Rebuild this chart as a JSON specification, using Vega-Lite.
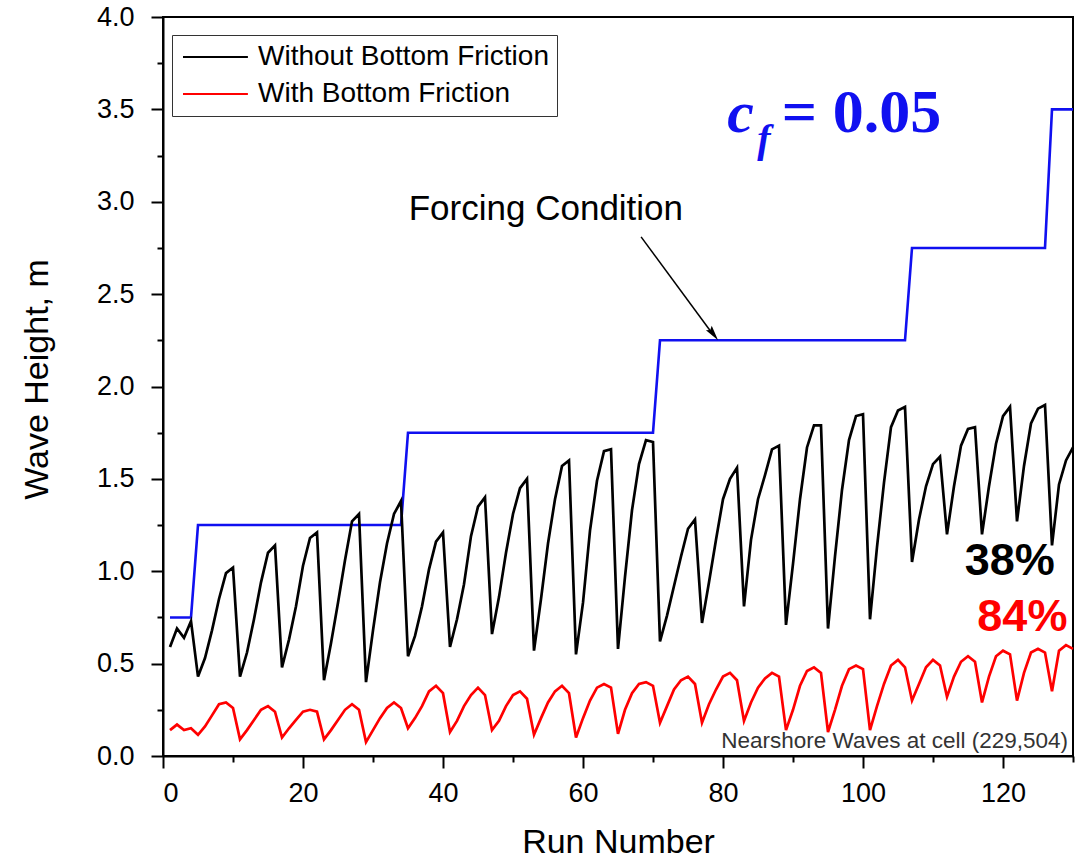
{
  "$schema": "https://vega.github.io/schema/vega-lite/v6.json",
  "width": 910,
  "height": 739,
  "autosize": {"type": "none"},
  "padding": {"left": 163, "top": 17, "right": 7, "bottom": 104},
  "background": "white",
  "config": {
    "font": "Liberation Sans",
    "view": {"stroke": "black", "strokeWidth": 2},
    "axis": {
      "grid": false,
      "domainColor": "black",
      "domainWidth": 2,
      "tickColor": "black",
      "tickWidth": 2,
      "labelColor": "black",
      "labelFont": "Liberation Sans",
      "labelFontSize": 27,
      "titleFont": "Liberation Sans",
      "titleFontSize": 34,
      "titleFontWeight": "normal",
      "titleColor": "black"
    }
  },
  "datasets": {
    "waves": [
      {"run":1,"series":"Without Bottom Friction","height":0.59},{"run":2,"series":"Without Bottom Friction","height":0.69},{"run":3,"series":"Without Bottom Friction","height":0.64},{"run":4,"series":"Without Bottom Friction","height":0.73},{"run":5,"series":"Without Bottom Friction","height":0.43},{"run":6,"series":"Without Bottom Friction","height":0.53},{"run":7,"series":"Without Bottom Friction","height":0.68},{"run":8,"series":"Without Bottom Friction","height":0.85},{"run":9,"series":"Without Bottom Friction","height":0.99},{"run":10,"series":"Without Bottom Friction","height":1.02},
      {"run":11,"series":"Without Bottom Friction","height":0.43},{"run":12,"series":"Without Bottom Friction","height":0.56},{"run":13,"series":"Without Bottom Friction","height":0.74},{"run":14,"series":"Without Bottom Friction","height":0.94},{"run":15,"series":"Without Bottom Friction","height":1.10},{"run":16,"series":"Without Bottom Friction","height":1.14},{"run":17,"series":"Without Bottom Friction","height":0.48},{"run":18,"series":"Without Bottom Friction","height":0.63},{"run":19,"series":"Without Bottom Friction","height":0.81},{"run":20,"series":"Without Bottom Friction","height":1.03},
      {"run":21,"series":"Without Bottom Friction","height":1.18},{"run":22,"series":"Without Bottom Friction","height":1.21},{"run":23,"series":"Without Bottom Friction","height":0.41},{"run":24,"series":"Without Bottom Friction","height":0.61},{"run":25,"series":"Without Bottom Friction","height":0.83},{"run":26,"series":"Without Bottom Friction","height":1.06},{"run":27,"series":"Without Bottom Friction","height":1.27},{"run":28,"series":"Without Bottom Friction","height":1.31},{"run":29,"series":"Without Bottom Friction","height":0.40},{"run":30,"series":"Without Bottom Friction","height":0.68},
      {"run":31,"series":"Without Bottom Friction","height":0.94},{"run":32,"series":"Without Bottom Friction","height":1.15},{"run":33,"series":"Without Bottom Friction","height":1.31},{"run":34,"series":"Without Bottom Friction","height":1.38},{"run":35,"series":"Without Bottom Friction","height":0.54},{"run":36,"series":"Without Bottom Friction","height":0.65},{"run":37,"series":"Without Bottom Friction","height":0.81},{"run":38,"series":"Without Bottom Friction","height":1.01},{"run":39,"series":"Without Bottom Friction","height":1.16},{"run":40,"series":"Without Bottom Friction","height":1.21},
      {"run":41,"series":"Without Bottom Friction","height":0.59},{"run":42,"series":"Without Bottom Friction","height":0.74},{"run":43,"series":"Without Bottom Friction","height":0.93},{"run":44,"series":"Without Bottom Friction","height":1.19},{"run":45,"series":"Without Bottom Friction","height":1.35},{"run":46,"series":"Without Bottom Friction","height":1.40},{"run":47,"series":"Without Bottom Friction","height":0.66},{"run":48,"series":"Without Bottom Friction","height":0.86},{"run":49,"series":"Without Bottom Friction","height":1.10},{"run":50,"series":"Without Bottom Friction","height":1.31},
      {"run":51,"series":"Without Bottom Friction","height":1.45},{"run":52,"series":"Without Bottom Friction","height":1.50},{"run":53,"series":"Without Bottom Friction","height":0.57},{"run":54,"series":"Without Bottom Friction","height":0.85},{"run":55,"series":"Without Bottom Friction","height":1.15},{"run":56,"series":"Without Bottom Friction","height":1.39},{"run":57,"series":"Without Bottom Friction","height":1.57},{"run":58,"series":"Without Bottom Friction","height":1.60},{"run":59,"series":"Without Bottom Friction","height":0.55},{"run":60,"series":"Without Bottom Friction","height":0.83},
      {"run":61,"series":"Without Bottom Friction","height":1.22},{"run":62,"series":"Without Bottom Friction","height":1.49},{"run":63,"series":"Without Bottom Friction","height":1.65},{"run":64,"series":"Without Bottom Friction","height":1.66},{"run":65,"series":"Without Bottom Friction","height":0.58},{"run":66,"series":"Without Bottom Friction","height":0.97},{"run":67,"series":"Without Bottom Friction","height":1.33},{"run":68,"series":"Without Bottom Friction","height":1.58},{"run":69,"series":"Without Bottom Friction","height":1.71},{"run":70,"series":"Without Bottom Friction","height":1.70},
      {"run":71,"series":"Without Bottom Friction","height":0.62},{"run":72,"series":"Without Bottom Friction","height":0.76},{"run":73,"series":"Without Bottom Friction","height":0.92},{"run":74,"series":"Without Bottom Friction","height":1.08},{"run":75,"series":"Without Bottom Friction","height":1.23},{"run":76,"series":"Without Bottom Friction","height":1.28},{"run":77,"series":"Without Bottom Friction","height":0.72},{"run":78,"series":"Without Bottom Friction","height":0.94},{"run":79,"series":"Without Bottom Friction","height":1.17},{"run":80,"series":"Without Bottom Friction","height":1.39},
      {"run":81,"series":"Without Bottom Friction","height":1.50},{"run":82,"series":"Without Bottom Friction","height":1.56},{"run":83,"series":"Without Bottom Friction","height":0.81},{"run":84,"series":"Without Bottom Friction","height":1.17},{"run":85,"series":"Without Bottom Friction","height":1.39},{"run":86,"series":"Without Bottom Friction","height":1.52},{"run":87,"series":"Without Bottom Friction","height":1.66},{"run":88,"series":"Without Bottom Friction","height":1.68},{"run":89,"series":"Without Bottom Friction","height":0.71},{"run":90,"series":"Without Bottom Friction","height":1.04},
      {"run":91,"series":"Without Bottom Friction","height":1.39},{"run":92,"series":"Without Bottom Friction","height":1.67},{"run":93,"series":"Without Bottom Friction","height":1.79},{"run":94,"series":"Without Bottom Friction","height":1.79},{"run":95,"series":"Without Bottom Friction","height":0.69},{"run":96,"series":"Without Bottom Friction","height":1.08},{"run":97,"series":"Without Bottom Friction","height":1.44},{"run":98,"series":"Without Bottom Friction","height":1.71},{"run":99,"series":"Without Bottom Friction","height":1.84},{"run":100,"series":"Without Bottom Friction","height":1.85},
      {"run":101,"series":"Without Bottom Friction","height":0.74},{"run":102,"series":"Without Bottom Friction","height":1.13},{"run":103,"series":"Without Bottom Friction","height":1.48},{"run":104,"series":"Without Bottom Friction","height":1.78},{"run":105,"series":"Without Bottom Friction","height":1.87},{"run":106,"series":"Without Bottom Friction","height":1.89},{"run":107,"series":"Without Bottom Friction","height":1.05},{"run":108,"series":"Without Bottom Friction","height":1.28},{"run":109,"series":"Without Bottom Friction","height":1.46},{"run":110,"series":"Without Bottom Friction","height":1.58},
      {"run":111,"series":"Without Bottom Friction","height":1.62},{"run":112,"series":"Without Bottom Friction","height":1.20},{"run":113,"series":"Without Bottom Friction","height":1.46},{"run":114,"series":"Without Bottom Friction","height":1.68},{"run":115,"series":"Without Bottom Friction","height":1.77},{"run":116,"series":"Without Bottom Friction","height":1.78},{"run":117,"series":"Without Bottom Friction","height":1.20},{"run":118,"series":"Without Bottom Friction","height":1.46},{"run":119,"series":"Without Bottom Friction","height":1.69},{"run":120,"series":"Without Bottom Friction","height":1.84},
      {"run":121,"series":"Without Bottom Friction","height":1.89},{"run":122,"series":"Without Bottom Friction","height":1.27},{"run":123,"series":"Without Bottom Friction","height":1.57},{"run":124,"series":"Without Bottom Friction","height":1.80},{"run":125,"series":"Without Bottom Friction","height":1.88},{"run":126,"series":"Without Bottom Friction","height":1.90},{"run":127,"series":"Without Bottom Friction","height":1.14},{"run":128,"series":"Without Bottom Friction","height":1.47},{"run":129,"series":"Without Bottom Friction","height":1.60},{"run":130,"series":"Without Bottom Friction","height":1.67},
      {"run":1,"series":"With Bottom Friction","height":0.14},{"run":2,"series":"With Bottom Friction","height":0.17},{"run":3,"series":"With Bottom Friction","height":0.14},{"run":4,"series":"With Bottom Friction","height":0.15},{"run":5,"series":"With Bottom Friction","height":0.115},{"run":6,"series":"With Bottom Friction","height":0.16},{"run":7,"series":"With Bottom Friction","height":0.22},{"run":8,"series":"With Bottom Friction","height":0.28},{"run":9,"series":"With Bottom Friction","height":0.29},{"run":10,"series":"With Bottom Friction","height":0.26},
      {"run":11,"series":"With Bottom Friction","height":0.09},{"run":12,"series":"With Bottom Friction","height":0.14},{"run":13,"series":"With Bottom Friction","height":0.195},{"run":14,"series":"With Bottom Friction","height":0.25},{"run":15,"series":"With Bottom Friction","height":0.27},{"run":16,"series":"With Bottom Friction","height":0.24},{"run":17,"series":"With Bottom Friction","height":0.10},{"run":18,"series":"With Bottom Friction","height":0.15},{"run":19,"series":"With Bottom Friction","height":0.195},{"run":20,"series":"With Bottom Friction","height":0.24},
      {"run":21,"series":"With Bottom Friction","height":0.25},{"run":22,"series":"With Bottom Friction","height":0.24},{"run":23,"series":"With Bottom Friction","height":0.09},{"run":24,"series":"With Bottom Friction","height":0.14},{"run":25,"series":"With Bottom Friction","height":0.195},{"run":26,"series":"With Bottom Friction","height":0.25},{"run":27,"series":"With Bottom Friction","height":0.28},{"run":28,"series":"With Bottom Friction","height":0.25},{"run":29,"series":"With Bottom Friction","height":0.075},{"run":30,"series":"With Bottom Friction","height":0.14},
      {"run":31,"series":"With Bottom Friction","height":0.205},{"run":32,"series":"With Bottom Friction","height":0.26},{"run":33,"series":"With Bottom Friction","height":0.29},{"run":34,"series":"With Bottom Friction","height":0.26},{"run":35,"series":"With Bottom Friction","height":0.15},{"run":36,"series":"With Bottom Friction","height":0.205},{"run":37,"series":"With Bottom Friction","height":0.27},{"run":38,"series":"With Bottom Friction","height":0.35},{"run":39,"series":"With Bottom Friction","height":0.38},{"run":40,"series":"With Bottom Friction","height":0.34},
      {"run":41,"series":"With Bottom Friction","height":0.13},{"run":42,"series":"With Bottom Friction","height":0.19},{"run":43,"series":"With Bottom Friction","height":0.27},{"run":44,"series":"With Bottom Friction","height":0.33},{"run":45,"series":"With Bottom Friction","height":0.37},{"run":46,"series":"With Bottom Friction","height":0.33},{"run":47,"series":"With Bottom Friction","height":0.14},{"run":48,"series":"With Bottom Friction","height":0.19},{"run":49,"series":"With Bottom Friction","height":0.27},{"run":50,"series":"With Bottom Friction","height":0.33},
      {"run":51,"series":"With Bottom Friction","height":0.35},{"run":52,"series":"With Bottom Friction","height":0.31},{"run":53,"series":"With Bottom Friction","height":0.115},{"run":54,"series":"With Bottom Friction","height":0.205},{"run":55,"series":"With Bottom Friction","height":0.29},{"run":56,"series":"With Bottom Friction","height":0.35},{"run":57,"series":"With Bottom Friction","height":0.38},{"run":58,"series":"With Bottom Friction","height":0.34},{"run":59,"series":"With Bottom Friction","height":0.10},{"run":60,"series":"With Bottom Friction","height":0.205},
      {"run":61,"series":"With Bottom Friction","height":0.30},{"run":62,"series":"With Bottom Friction","height":0.37},{"run":63,"series":"With Bottom Friction","height":0.39},{"run":64,"series":"With Bottom Friction","height":0.37},{"run":65,"series":"With Bottom Friction","height":0.12},{"run":66,"series":"With Bottom Friction","height":0.25},{"run":67,"series":"With Bottom Friction","height":0.34},{"run":68,"series":"With Bottom Friction","height":0.39},{"run":69,"series":"With Bottom Friction","height":0.40},{"run":70,"series":"With Bottom Friction","height":0.38},
      {"run":71,"series":"With Bottom Friction","height":0.18},{"run":72,"series":"With Bottom Friction","height":0.27},{"run":73,"series":"With Bottom Friction","height":0.36},{"run":74,"series":"With Bottom Friction","height":0.41},{"run":75,"series":"With Bottom Friction","height":0.43},{"run":76,"series":"With Bottom Friction","height":0.39},{"run":77,"series":"With Bottom Friction","height":0.18},{"run":78,"series":"With Bottom Friction","height":0.28},{"run":79,"series":"With Bottom Friction","height":0.36},{"run":80,"series":"With Bottom Friction","height":0.43},
      {"run":81,"series":"With Bottom Friction","height":0.45},{"run":82,"series":"With Bottom Friction","height":0.41},{"run":83,"series":"With Bottom Friction","height":0.19},{"run":84,"series":"With Bottom Friction","height":0.29},{"run":85,"series":"With Bottom Friction","height":0.37},{"run":86,"series":"With Bottom Friction","height":0.42},{"run":87,"series":"With Bottom Friction","height":0.45},{"run":88,"series":"With Bottom Friction","height":0.43},{"run":89,"series":"With Bottom Friction","height":0.14},{"run":90,"series":"With Bottom Friction","height":0.25},
      {"run":91,"series":"With Bottom Friction","height":0.38},{"run":92,"series":"With Bottom Friction","height":0.46},{"run":93,"series":"With Bottom Friction","height":0.48},{"run":94,"series":"With Bottom Friction","height":0.45},{"run":95,"series":"With Bottom Friction","height":0.13},{"run":96,"series":"With Bottom Friction","height":0.25},{"run":97,"series":"With Bottom Friction","height":0.38},{"run":98,"series":"With Bottom Friction","height":0.47},{"run":99,"series":"With Bottom Friction","height":0.49},{"run":100,"series":"With Bottom Friction","height":0.47},
      {"run":101,"series":"With Bottom Friction","height":0.14},{"run":102,"series":"With Bottom Friction","height":0.27},{"run":103,"series":"With Bottom Friction","height":0.39},{"run":104,"series":"With Bottom Friction","height":0.49},{"run":105,"series":"With Bottom Friction","height":0.52},{"run":106,"series":"With Bottom Friction","height":0.48},{"run":107,"series":"With Bottom Friction","height":0.30},{"run":108,"series":"With Bottom Friction","height":0.39},{"run":109,"series":"With Bottom Friction","height":0.48},{"run":110,"series":"With Bottom Friction","height":0.52},
      {"run":111,"series":"With Bottom Friction","height":0.49},{"run":112,"series":"With Bottom Friction","height":0.32},{"run":113,"series":"With Bottom Friction","height":0.43},{"run":114,"series":"With Bottom Friction","height":0.51},{"run":115,"series":"With Bottom Friction","height":0.54},{"run":116,"series":"With Bottom Friction","height":0.51},{"run":117,"series":"With Bottom Friction","height":0.29},{"run":118,"series":"With Bottom Friction","height":0.43},{"run":119,"series":"With Bottom Friction","height":0.54},{"run":120,"series":"With Bottom Friction","height":0.57},
      {"run":121,"series":"With Bottom Friction","height":0.55},{"run":122,"series":"With Bottom Friction","height":0.30},{"run":123,"series":"With Bottom Friction","height":0.45},{"run":124,"series":"With Bottom Friction","height":0.56},{"run":125,"series":"With Bottom Friction","height":0.58},{"run":126,"series":"With Bottom Friction","height":0.56},{"run":127,"series":"With Bottom Friction","height":0.35},{"run":128,"series":"With Bottom Friction","height":0.57},{"run":129,"series":"With Bottom Friction","height":0.60},{"run":130,"series":"With Bottom Friction","height":0.58}
    ],
    "forcing": [
      {"run":1,"height":0.75},{"run":4,"height":0.75},{"run":5,"height":1.25},{"run":34,"height":1.25},{"run":35,"height":1.75},{"run":70,"height":1.75},{"run":71,"height":2.25},{"run":106,"height":2.25},{"run":107,"height":2.75},{"run":126,"height":2.75},{"run":127,"height":3.5},{"run":130,"height":3.5}
    ],
    "arrow": [{"x":68.3,"y":2.81,"x2":78.6,"y2":2.28}],
    "arrowhead": [{"x":78.6,"y":2.285}]
  },
  "layer": [
    {
      "data": {"name": "forcing"},
      "mark": {"type": "line", "color": "#1010f0", "strokeWidth": 2.6},
      "encoding": {
        "x": {
          "field": "run", "type": "quantitative",
          "scale": {"domain": [0, 130], "nice": false, "zero": false},
          "axis": {
            "title": "Run Number",
            "values": [0,10,20,30,40,50,60,70,80,90,100,110,120,130],
            "labelExpr": "datum.value % 20 === 0 ? datum.label : ''",
            "tickSize": {"condition": {"test": "datum.value % 20 === 0", "value": 12}, "value": 6},
            "labelPadding": 12,
            "titlePadding": 19
          }
        },
        "y": {
          "field": "height", "type": "quantitative",
          "scale": {"domain": [0, 4], "nice": false},
          "axis": {
            "title": "Wave Height, m",
            "values": [0,0.25,0.5,0.75,1,1.25,1.5,1.75,2,2.25,2.5,2.75,3,3.25,3.5,3.75,4],
            "format": ".1f",
            "labelExpr": "(datum.value * 4) % 2 === 0 ? datum.label : ''",
            "tickSize": {"condition": {"test": "(datum.value * 4) % 2 === 0", "value": 12}, "value": 6},
            "labelPadding": 17,
            "titlePadding": 42,
            "titleY": 362
          }
        }
      }
    },
    {
      "data": {"name": "waves"},
      "mark": {"type": "line", "strokeWidth": 2.7},
      "encoding": {
        "x": {"field": "run", "type": "quantitative"},
        "y": {"field": "height", "type": "quantitative"},
        "color": {
          "field": "series", "type": "nominal",
          "scale": {"domain": ["Without Bottom Friction", "With Bottom Friction"], "range": ["#000000", "#ff0000"]},
          "legend": {
            "title": null,
            "orient": "none",
            "legendX": 9,
            "legendY": 18,
            "symbolType": "M-1,0L4.9,0",
            "symbolSize": 484,
            "symbolStrokeWidth": 2,
            "labelFontSize": 28,
            "labelFont": "Liberation Sans",
            "labelColor": "black",
            "labelLimit": 500,
            "labelOffset": 50,
            "strokeColor": "#333333",
            "fillColor": "white",
            "padding": 8,
            "rowPadding": 9
          }
        }
      }
    },
    {
      "data": {"name": "arrow"},
      "mark": {"type": "rule", "color": "black", "strokeWidth": 1.5},
      "encoding": {
        "x": {"field": "x", "type": "quantitative"},
        "y": {"field": "y", "type": "quantitative"},
        "x2": {"field": "x2"},
        "y2": {"field": "y2"}
      }
    },
    {
      "data": {"name": "arrowhead"},
      "mark": {"type": "point", "shape": "M0,-1L0.45,0.9L0,0.6L-0.45,0.9Z", "filled": true, "color": "black", "opacity": 1, "size": 260, "angle": 143},
      "encoding": {
        "x": {"field": "x", "type": "quantitative"},
        "y": {"field": "y", "type": "quantitative"}
      }
    },
    {
      "data": {"values": [{"label": "Forcing Condition", "x": 54.7, "y": 2.96}]},
      "mark": {"type": "text", "font": "Liberation Sans", "fontSize": 35, "align": "center", "baseline": "middle", "color": "black"},
      "encoding": {
        "x": {"field": "x", "type": "quantitative"},
        "y": {"field": "y", "type": "quantitative"},
        "text": {"field": "label"}
      }
    },
    {
      "data": {"values": [{"label": "c", "x": 80.6, "y": 3.38}]},
      "mark": {"type": "text", "font": "Liberation Serif", "fontSize": 60, "fontStyle": "italic", "fontWeight": "bold", "align": "left", "baseline": "alphabetic", "color": "#1010f0"},
      "encoding": {
        "x": {"field": "x", "type": "quantitative"},
        "y": {"field": "y", "type": "quantitative"},
        "text": {"field": "label"}
      }
    },
    {
      "data": {"values": [{"label": "f", "x": 84.9, "y": 3.27}]},
      "mark": {"type": "text", "font": "Liberation Serif", "fontSize": 40, "fontStyle": "italic", "fontWeight": "bold", "align": "left", "baseline": "alphabetic", "color": "#1010f0"},
      "encoding": {
        "x": {"field": "x", "type": "quantitative"},
        "y": {"field": "y", "type": "quantitative"},
        "text": {"field": "label"}
      }
    },
    {
      "data": {"values": [{"label": "= 0.05", "x": 88.4, "y": 3.38}]},
      "mark": {"type": "text", "font": "Liberation Serif", "fontSize": 62, "fontWeight": "bold", "align": "left", "baseline": "alphabetic", "color": "#1010f0"},
      "encoding": {
        "x": {"field": "x", "type": "quantitative"},
        "y": {"field": "y", "type": "quantitative"},
        "text": {"field": "label"}
      }
    },
    {
      "data": {"values": [{"label": "38%", "x": 127.4, "y": 0.98, "c": "black"}, {"label": "84%", "x": 129.2, "y": 0.675, "c": "red"}]},
      "mark": {"type": "text", "font": "Liberation Sans", "fontSize": 45, "fontWeight": "bold", "align": "right", "baseline": "alphabetic"},
      "encoding": {
        "x": {"field": "x", "type": "quantitative"},
        "y": {"field": "y", "type": "quantitative"},
        "text": {"field": "label"},
        "color": {"field": "c", "type": "nominal", "scale": null}
      }
    },
    {
      "data": {"values": [{"label": "Nearshore Waves at cell (229,504)", "x": 129.3, "y": 0.045}]},
      "mark": {"type": "text", "font": "Liberation Sans", "fontSize": 22.5, "align": "right", "baseline": "alphabetic", "color": "#333333"},
      "encoding": {
        "x": {"field": "x", "type": "quantitative"},
        "y": {"field": "y", "type": "quantitative"},
        "text": {"field": "label"}
      }
    }
  ]
}
